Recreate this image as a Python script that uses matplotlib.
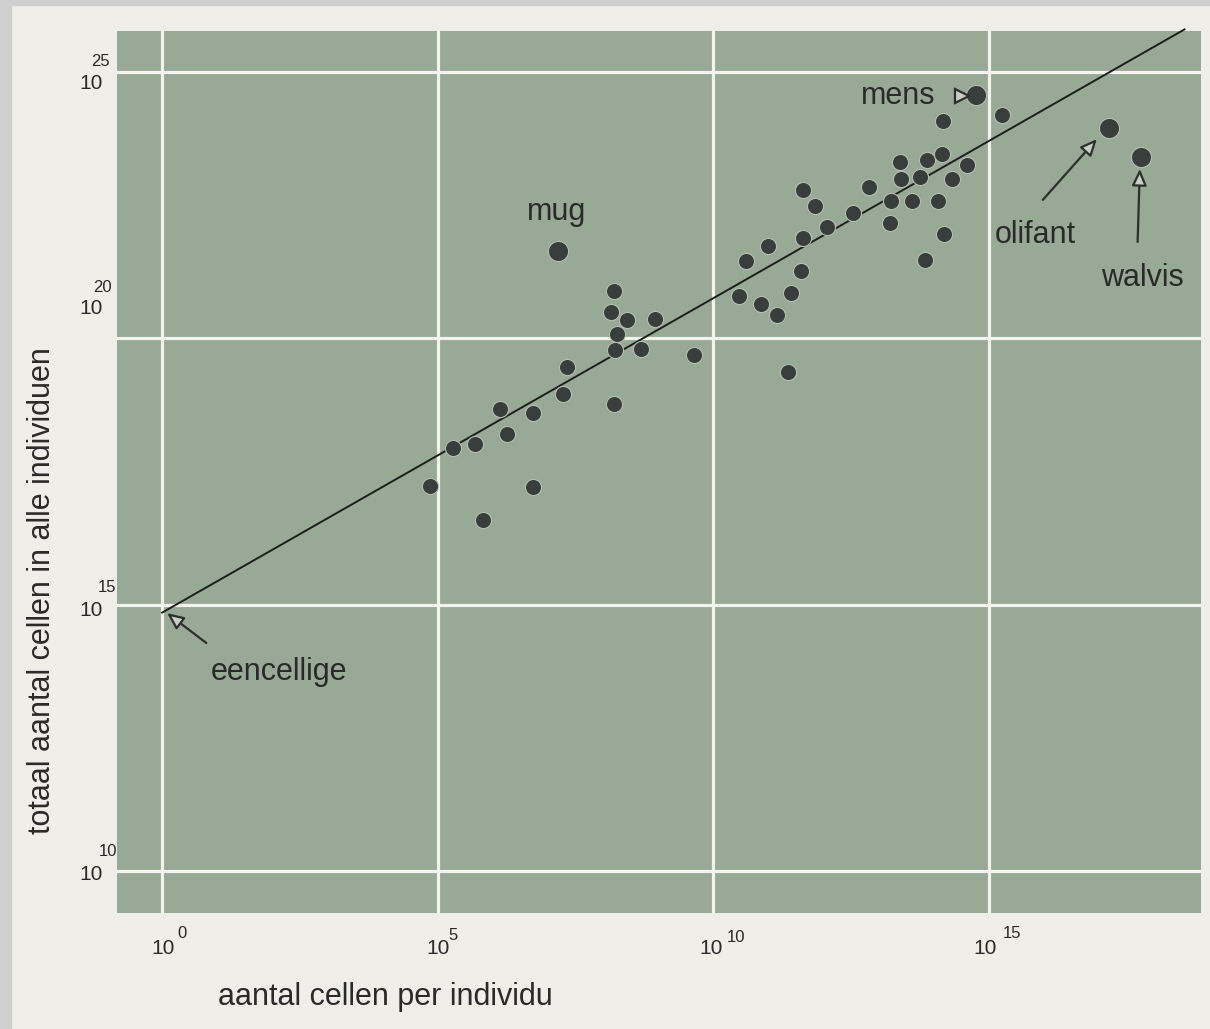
import numpy as np
import matplotlib.pyplot as plt
from matplotlib.patches import Rectangle

# exponents (log10)
cells_per_ind = [8.20, 8.14, 8.43, 8.94, 8.25, 8.22, 8.69, 9.65, 7.35, 7.27,
                 8.20, 6.13, 6.73, 6.26, 5.28, 5.68, 4.86, 6.73, 5.82,
                 15.24, 14.17, 13.39, 13.88, 14.15, 14.60, 13.40, 13.75, 14.33,
                 11.63, 12.82, 11.84, 12.53, 13.22, 13.60, 14.08, 12.06, 13.21,
                 11.63, 14.18, 10.99, 10.59, 13.84, 11.59, 11.41, 10.47, 10.87,
                 11.16, 11.36]
total_cells = [20.89, 20.49, 20.34, 20.36, 20.08, 19.78, 19.80, 19.69, 19.46, 18.96,
               18.77, 18.67, 18.60, 18.20, 17.94, 18.02, 17.23, 17.21, 16.59,
               24.19, 24.08, 23.31, 23.35, 23.46, 23.25, 22.99, 23.03, 22.99,
               22.78, 22.84, 22.48, 22.35, 22.58, 22.58, 22.58, 22.09, 22.17,
               21.88, 21.96, 21.73, 21.45, 21.47, 21.26, 20.85, 20.80, 20.64,
               20.44, 19.37]

named_labels = ['mug', 'mens', 'olifant', 'walvis']
named_x = [7.18, 14.77, 17.18, 17.76]
named_y = [21.64, 24.57, 23.95, 23.40]

line_x = [0.0, 18.55]
line_y = [14.85, 25.80]

x_ticks = [0, 5, 10, 15]
y_ticks = [10, 15, 20, 25]

bg = '#98a995'
page = '#efeee9'
dot = '#393d3c'
txt = '#2a2a2a'
head_fill = '#c8d0c5'

plt.rcParams['font.family'] = ['Liberation Sans', 'DejaVu Sans']

fig = plt.figure(figsize=(12.10, 10.29), dpi=100, facecolor=page)
# scan border
fig.patches.append(Rectangle((0, 0), 11/1210, 1, transform=fig.transFigure,
                             color='#cfcfcf', zorder=0))
fig.patches.append(Rectangle((0, 1-5/1029), 1, 5/1029, transform=fig.transFigure,
                             color='#cfcfcf', zorder=0))

ax = fig.add_axes([117/1210, 1-913/1029, (1201-117)/1210, (913-31)/1029])
ax.set_facecolor(bg)
ax.set_xlim(-0.82, 18.85)
ax.set_ylim(9.21, 25.77)
for s in ax.spines.values():
    s.set_visible(False)
ax.set_xticks([])
ax.set_yticks([])

for xv in x_ticks:
    ax.axvline(xv, color='#f4f4ee', lw=2.3, zorder=1)
for yv in y_ticks:
    ax.axhline(yv, color='#f4f4ee', lw=2.3, zorder=1)

ax.plot(line_x, line_y, color='#1e1e1e', lw=1.4, zorder=2, clip_on=False)

ax.scatter(cells_per_ind, total_cells, s=135, color=dot,
           edgecolors='#b4beb1', linewidths=0.8, zorder=3)
ax.scatter(named_x, named_y, s=210, color=dot,
           edgecolors='#b4beb1', linewidths=0.8, zorder=3)

# labels and arrows
arr = dict(arrowstyle='-|>,head_length=1.0,head_width=0.45', fc=head_fill,
           ec='#2e2e2e', lw=1.6, shrinkA=0, shrinkB=0)
ax.text(7.16, 22.37, 'mug', fontsize=22, color=txt, ha='center', va='center')
ax.text(13.35, 24.55, 'mens', fontsize=22, color=txt, ha='center', va='center')
ax.plot([14.52], [24.55], marker='>', ms=10, mfc=head_fill, mec='#2e2e2e', mew=1.6,
        zorder=3)
ax.text(15.84, 21.94, 'olifant', fontsize=22, color=txt, ha='center', va='center')
ax.annotate('', xy=(16.96, 23.74), xytext=(15.98, 22.60), arrowprops=arr)
ax.text(17.79, 21.13, 'walvis', fontsize=22, color=txt, ha='center', va='center')
ax.annotate('', xy=(17.74, 23.18), xytext=(17.70, 21.81), arrowprops=arr)
ax.text(2.12, 13.74, 'eencellige', fontsize=22, color=txt, ha='center', va='center')
ax.annotate('', xy=(0.09, 14.84), xytext=(0.80, 14.28), arrowprops=arr)

# tick labels drawn as "10" with separate exponents (pixel positions)
W, H = 1210, 1029
y_main_py = [875, 610, 308, 83]
y_sup_px = [108, 107, 102, 100]
y_sup_py = [851, 587, 287, 61]
for t, my, sx, sy in zip(y_ticks, y_main_py, y_sup_px, y_sup_py):
    fig.text(103/W, 1-my/H, '10', fontsize=15, color=txt, ha='right', va='center')
    fig.text(sx/W, 1-sy/H, str(t), fontsize=12, color=txt, ha='center', va='center')

x_main_px = [163, 438, 711, 985]
x_sup_px = [182, 453, 736, 1012]
x_sup_py = [933, 936, 937, 933]
for t, mx, sx, sy in zip(x_ticks, x_main_px, x_sup_px, x_sup_py):
    fig.text(mx/W, 1-948/H, '10', fontsize=15, color=txt, ha='center', va='center')
    fig.text(sx/W, 1-sy/H, str(t), fontsize=12, color=txt, ha='center', va='center')

fig.text(385/W, 1-997/H, 'aantal cellen per individu', fontsize=22, color=txt,
         ha='center', va='center')
fig.text(42/W, 1-591/H, 'totaal aantal cellen in alle individuen', fontsize=22,
         color=txt, ha='center', va='center', rotation=90)

fig.savefig('out.png', dpi=100, facecolor=page)
